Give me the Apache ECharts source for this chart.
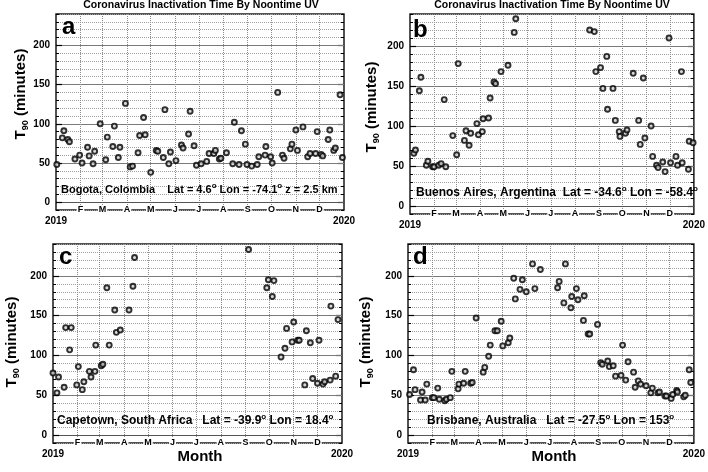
<!DOCTYPE html>
<html><head><meta charset="utf-8">
<style>html,body{margin:0;padding:0;background:#fff}#c{width:708px;height:472px}</style>
<script src="https://cdn.jsdelivr.net/npm/echarts@6.0.0/dist/echarts.min.js"></script>
</head><body><div id="c"></div>
<script>
// ---- data (day of year 2019, T90 minutes) ----
const bogotaDays = [1,8,10,15,17,24,30,33,40,42,47,49,56,63,65,72,74,79,81,88,94,97,104,106,111,113,120,127,129,136,138,143,145,152,159,161,168,170,175,178,184,191,194,200,202,207,209,216,224,226,232,235,240,242,248,255,257,265,266,272,274,281,287,289,297,299,304,306,313,319,322,329,331,336,338,345,347,352,354,360,363];
const bogotaT90 = [48,82,91,80,77,55,60,50,70,59,49,65,100,54,83,71,97,57,70,126,45,46,63,85,108,86,38,66,65,57,118,49,64,53,73,69,87,116,72,47,49,52,62,62,66,55,56,63,49,102,48,91,74,48,46,48,58,60,71,58,50,140,60,56,68,74,92,66,96,58,62,62,90,61,59,80,92,66,69,137,57];

const buenosDays = [5,7,12,14,21,23,29,31,37,40,44,46,55,60,62,70,72,76,78,86,88,93,94,101,103,108,110,117,126,134,136,231,237,239,245,248,253,254,261,264,269,270,277,279,287,294,296,300,302,310,312,317,319,325,328,333,335,342,344,349,350,358,359,364];
const buenosT90 = [66,70,144,161,51,56,49,49,51,53,133,49,88,64,178,82,94,76,91,103,89,93,109,110,135,155,153,168,176,217,234,220,218,168,173,147,187,121,147,107,93,87,91,95,166,107,77,160,85,100,62,51,48,55,43,210,54,62,51,168,54,46,81,79];

const capeDays = [0,5,7,14,16,21,23,30,32,37,39,46,48,53,54,61,63,68,71,78,80,85,96,101,103,247,270,272,277,279,288,293,295,302,304,309,311,318,320,325,328,334,336,341,343,350,351,357,360];
const capeT90 = [78,53,73,60,135,107,135,63,86,57,67,80,73,80,113,87,89,185,113,157,129,132,157,187,223,233,185,195,174,194,98,109,134,117,142,119,119,63,131,116,71,65,119,64,67,69,162,74,145];

const brisDays = [2,7,9,16,18,22,24,31,33,38,40,47,49,54,56,64,65,71,73,80,82,87,96,98,103,105,111,114,119,121,128,130,135,137,143,146,151,159,162,169,191,193,199,201,208,209,215,217,224,225,230,232,242,246,248,255,257,262,265,272,274,278,281,288,290,294,297,304,310,312,319,321,328,330,336,338,343,344,352,354,359,361];
const brisT90 = [51,82,57,44,54,44,64,47,47,59,45,43,45,47,80,58,64,65,80,65,66,147,79,85,99,113,131,131,143,112,116,122,197,171,183,195,180,215,184,208,185,193,166,215,160,174,184,170,144,175,127,127,139,91,89,93,86,87,74,75,113,69,92,79,60,68,64,62,53,59,53,54,49,49,46,51,56,54,48,50,82,66];

// ---- axes / labels ----
const monthStarts = [31,59,90,120,151,181,212,243,273,304,334];
const monthLetters = ['F','M','A','M','J','J','A','S','O','N','D'];
const yearTicks = [0,365];
const yearLabels = ['2019','2020'];
const majorTicks = [0,50,100,150,200];
const panelLetters = ['a','b','c','d'];
const titleText = 'Coronavirus Inactivation Time By Noontime UV';
const notes = [
  '{n|Bogota, Colombia    Lat = 4.6}{s|o}{n| Lon = -74.1}{s|o}{n| z = 2.5 km}',
  '{n|Buenos Aires, Argentina  Lat = -34.6}{s|o}{n| Lon = -58.4}{s|o}',
  '{n|Capetown, South Africa   Lat = -39.9}{s|o}{n| Lon = 18.4}{s|o}',
  '{n|Brisbane, Australia   Lat = -27.5}{s|o}{n| Lon = 153}{s|o}'
];
const seriesDays = [bogotaDays, buenosDays, capeDays, brisDays];
const seriesVals = [bogotaT90, buenosT90, capeT90, brisT90];

const FONT = "'Liberation Sans', Arial, sans-serif";
const layout = [
  {left:56, top:14, width:288, height:196, letter:[62,27], name:[21,94], note:[61,188.5], noteSize:11},
  {left:410, top:14, width:289, height:200, letter:[413,30.5], name:[372,107], note:[416,191.7], noteSize:12},
  {left:53, top:244, width:289, height:199, letter:[59,257.5], name:[12,342], note:[57,419.3], noteSize:12},
  {left:408, top:244, width:289, height:199, letter:[413,257.5], name:[366,342], note:[427,419.3], noteSize:12}
];

const grids = [], xAxes = [], yAxes = [], series = [], graphics = [];
layout.forEach((L, i) => {
  grids.push({left:L.left, top:L.top, width:L.width, height:L.height, show:true,
    borderColor:'#1a1a1a', borderWidth:1.5, backgroundColor:'rgba(0,0,0,0)', containLabel:false});
  // year axis (labels below plot)
  xAxes.push({gridIndex:i, type:'value', min:0, max:365, position:'bottom',
    axisLine:{show:false, onZero:false}, axisTick:{show:false}, splitLine:{show:false},
    axisLabel:{customValues:yearTicks, formatter:v => yearLabels[yearTicks.indexOf(v)],
      fontFamily:FONT, fontWeight:'bold', fontSize:10, color:'#000', margin:6}});
  // month axis (on the zero line)
  xAxes.push({gridIndex:i, type:'value', min:0, max:365, position:'bottom', z:1,
    axisLine:{show:true, onZero:true, lineStyle:{color:'#555', width:1}},
    axisTick:{show:false, customValues:monthStarts},
    axisLabel:{customValues:monthStarts, formatter:v => monthLetters[monthStarts.indexOf(v)],
      fontFamily:FONT, fontWeight:'bold', fontSize:9, color:'#000', margin:-5,
      backgroundColor:'#fff', padding:[0,1]},
    splitLine:{show:true, lineStyle:{type:'dotted', color:'#8a8a8a', width:1}}});
  // left major
  yAxes.push({gridIndex:i, type:'value', min:-10, max:240, position:'left', z:1,
    axisLine:{show:false, onZero:false},
    axisTick:{show:true, customValues:majorTicks, inside:true, length:6, lineStyle:{color:'#000', width:1.2}},
    axisLabel:{customValues:majorTicks, fontFamily:FONT, fontWeight:'bold', fontSize:10, color:'#000', margin:6},
    splitLine:{show:true, lineStyle:{color:'#7a7a7a', width:1}}});
  // left minor
  yAxes.push({gridIndex:i, type:'value', min:-10, max:240, interval:10, position:'left', z:0,
    axisLine:{show:false, onZero:false},
    axisTick:{show:true, inside:true, length:3, lineStyle:{color:'#000'}},
    axisLabel:{show:false},
    splitLine:{show:true, lineStyle:{type:'dotted', color:'#a0a0a0', width:1}}});
  // right major
  yAxes.push({gridIndex:i, type:'value', min:-10, max:240, position:'right',
    axisLine:{show:false, onZero:false},
    axisTick:{show:true, customValues:majorTicks, inside:true, length:6, lineStyle:{color:'#000', width:1.2}},
    axisLabel:{show:false}, splitLine:{show:false}});
  // right minor
  yAxes.push({gridIndex:i, type:'value', min:-10, max:240, interval:10, position:'right',
    axisLine:{show:false, onZero:false},
    axisTick:{show:true, inside:true, length:3, lineStyle:{color:'#000'}},
    axisLabel:{show:false}, splitLine:{show:false}});

  series.push({type:'scatter', xAxisIndex:2*i+1, yAxisIndex:4*i, clip:false, z:5,
    data: seriesDays[i].map((d, k) => [d, seriesVals[i][k]]),
    symbol:'circle', symbolSize:5,
    itemStyle:{color:'#cfcfcf', borderColor:'#000', borderWidth:1.9},
    emphasis:{disabled:true}});

  graphics.push({type:'text', x:L.letter[0], y:L.letter[1], z:100,
    style:{text:panelLetters[i], font:'bold 24px ' + FONT, fill:'#000',
      align:'left', verticalAlign:'middle', textAlign:'left', textVerticalAlign:'middle'}});
  graphics.push({type:'text', x:L.note[0], y:L.note[1], z:100,
    style:{text:notes[i], fill:'#000', align:'left', verticalAlign:'middle', textAlign:'left', textVerticalAlign:'middle',
      rich:{n:{fontFamily:FONT, fontWeight:'bold', fontSize:L.noteSize, fill:'#000', lineHeight:14, verticalAlign:'bottom'},
            s:{fontFamily:FONT, fontWeight:'bold', fontSize:8, fill:'#000', lineHeight:8, verticalAlign:'top'}}}});
  graphics.push({type:'text', x:L.name[0], y:L.name[1], rotation:Math.PI/2, z:100,
    style:{text:'{t|T}{u|90}{t| (minutes)}', fill:'#000', align:'center', verticalAlign:'middle', textAlign:'center', textVerticalAlign:'middle',
      rich:{t:{fontFamily:FONT, fontWeight:'bold', fontSize:15, fill:'#000', lineHeight:18, verticalAlign:'middle'},
            u:{fontFamily:FONT, fontWeight:'bold', fontSize:9, fill:'#000', lineHeight:18, verticalAlign:'bottom', padding:[4,0,0,0]}}}});
});

[[201,5],[552,5]].forEach(p => graphics.push({type:'text', x:p[0], y:p[1], z:100,
  style:{text:titleText, font:'bold 10.5px ' + FONT, fill:'#000', align:'center', verticalAlign:'middle', textAlign:'center', textVerticalAlign:'middle'}}));
[[200,456.5],[554,456.8]].forEach(p => graphics.push({type:'text', x:p[0], y:p[1], z:100,
  style:{text:'Month', font:'bold 15px ' + FONT, fill:'#000', align:'center', verticalAlign:'middle', textAlign:'center', textVerticalAlign:'middle'}}));

const chart = echarts.init(document.getElementById('c'), null, {renderer:'canvas'});
chart.setOption({
  animation:false,
  backgroundColor:'#fff',
  textStyle:{fontFamily:FONT},
  grid:grids, xAxis:xAxes, yAxis:yAxes, series:series, graphic:graphics
});
</script></body></html>
